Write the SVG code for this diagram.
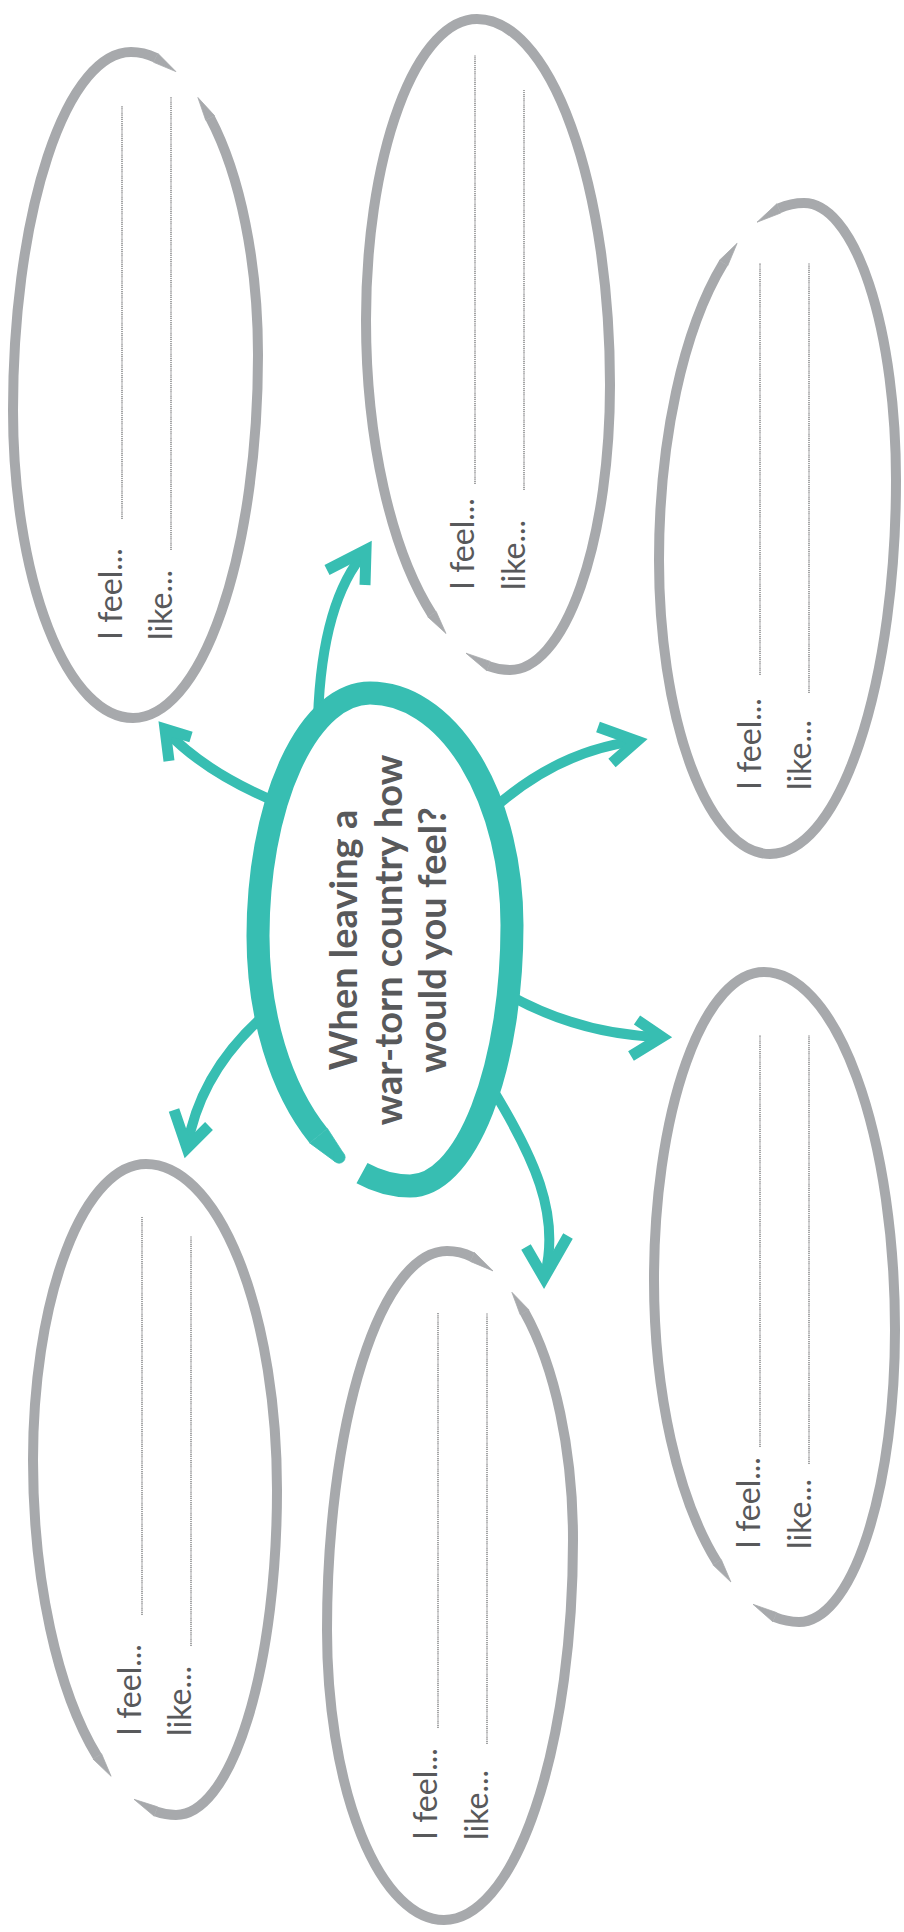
<svg xmlns="http://www.w3.org/2000/svg" width="904" height="1932" viewBox="0 0 904 1932">
<style>
.ring{fill:none;stroke:#a7a9ac;stroke-width:10;stroke-linecap:butt}
.tip{fill:#a7a9ac;stroke:#a7a9ac;stroke-width:0.8;stroke-linejoin:round}
.core{fill:none;stroke:#37beb2;stroke-width:23;stroke-linecap:butt}
.ctip{fill:#37beb2;stroke:#37beb2;stroke-width:0.8;stroke-linejoin:round}
.lbl{font-family:Lato,"Liberation Sans",sans-serif;font-size:32px;fill:#58595b}
.q{font-family:Lato,"Liberation Sans",sans-serif;font-size:38px;font-weight:700;fill:#58595b;text-anchor:middle}
.dot{stroke:#58595b;stroke-width:1.1;stroke-dasharray:1.2 0.9;fill:none}
.arr{fill:none;stroke:#37beb2;stroke-width:10;stroke-linecap:butt}
.head{fill:none;stroke:#37beb2;stroke-width:11;stroke-linecap:butt;stroke-linejoin:miter}
</style>
<rect width="904" height="1932" fill="#ffffff"/>

<g id="connectors">
<path class="arr" d="M274,801 Q205,772 166,731"/>
<path class="head" d="M169,761 L165,729 L191,737"/>
<path class="arr" d="M318,718 Q322,600 366,551"/>
<path class="head" d="M327,570 L366,550 L365,585"/>
<path class="arr" d="M494,808 Q560,750 637,741"/>
<path class="head" d="M598,727 L637,741 L612,763"/>
<path class="arr" d="M507,994 Q580,1035 662,1037"/>
<path class="head" d="M637,1020 L662,1037 L631,1056"/>
<path class="arr" d="M490,1085 C533,1155 562,1215 544,1278"/>
<path class="head" d="M526,1247 L544,1278 L568,1236"/>
<path class="arr" d="M268,1012 Q200,1070 187,1148"/>
<path class="head" d="M174,1110 L187,1148 L209,1126"/>
</g>

<g id="center">
<path class="core" d="M318.5,1135.7 A152,250 0 0 1 258,936 A112,243 0 0 1 370,693 A142,232 0 0 1 512,925 A102,261 0 0 1 410,1186 A152,250 0 0 1 362,1173.2"/>
<path class="ctip" d="M309.6,1142.9 L335.2,1161.7 L343,1152.7 L327.4,1128.5 Z"/>
<circle class="ctip" cx="339.1" cy="1157.2" r="6"/>
<text class="q" transform="translate(357,940) rotate(-90)">When leaving a</text>
<text class="q" transform="translate(402,940) rotate(-90)">war-torn country how</text>
<text class="q" transform="translate(446,940) rotate(-90)">would you feel?</text>
</g>

<g id="node-a">
<path class="ring" d="M210.1,117.9 A127,303 0 0 1 258,355 A125,363 0 0 1 133,718 A120,308 0 0 1 13,410 A118,358 0 0 1 131,52 A127,303 0 0 1 155.7,57.8"/>
<path class="tip" d="M157.8,53.3 L175.9,71.6 L153.6,62.3 Z"/>
<path class="tip" d="M214.5,115.6 L197.9,97.5 L205.7,120.2 Z"/>
<text class="lbl" transform="translate(122,640) rotate(-90)">I feel...</text>
<text class="lbl" transform="translate(172,640) rotate(-90)">like...</text>
<line class="dot" x1="122" y1="519" x2="122" y2="106"/>
<line class="dot" x1="171" y1="550" x2="171" y2="97"/>
</g>

<g id="node-b">
<path class="ring" d="M432,614.2 A144,350 0 0 1 366,320 A111,301 0 0 1 477,19 A133,366 0 0 1 610,385 A100,285 0 0 1 510,670 A144,350 0 0 1 488.5,666.1"/>
<path class="tip" d="M486.8,670.8 L466,653.2 L490.2,661.4 Z"/>
<path class="tip" d="M427.8,616.9 L446,633.5 L436.2,611.5 Z"/>
<text class="lbl" transform="translate(474,590) rotate(-90)">I feel...</text>
<text class="lbl" transform="translate(525,590) rotate(-90)">like...</text>
<line class="dot" x1="475" y1="484" x2="475" y2="55"/>
<line class="dot" x1="524" y1="490" x2="524" y2="90"/>
</g>

<g id="node-c">
<path class="ring" d="M723.4,263.2 A145,357 0 0 0 659,560 A111,294 0 0 0 770,854 A126,374 0 0 0 896,480 A92,277 0 0 0 804,203 A145,357 0 0 0 778.8,208.4"/>
<path class="tip" d="M776.8,203.8 L757,222.2 L780.8,213 Z"/>
<path class="tip" d="M719.1,260.6 L737.1,243.3 L727.7,265.8 Z"/>
<text class="lbl" transform="translate(761,790) rotate(-90)">I feel...</text>
<text class="lbl" transform="translate(811,790) rotate(-90)">like...</text>
<line class="dot" x1="760" y1="675" x2="760" y2="263"/>
<line class="dot" x1="809" y1="693" x2="809" y2="263"/>
</g>

<g id="node-d">
<path class="ring" d="M717.1,1562.2 A145,342 0 0 1 654,1280 A110,308 0 0 1 764,972 A131,358 0 0 1 895,1330 A96,292 0 0 1 799,1622 A145,342 0 0 1 774.8,1617.2"/>
<path class="tip" d="M772.9,1621.8 L753,1604.3 L776.7,1612.6 Z"/>
<path class="tip" d="M712.9,1564.8 L730.9,1582 L721.3,1559.6 Z"/>
<text class="lbl" transform="translate(760,1549) rotate(-90)">I feel...</text>
<text class="lbl" transform="translate(811,1549) rotate(-90)">like...</text>
<line class="dot" x1="760" y1="1447" x2="760" y2="1035"/>
<line class="dot" x1="809" y1="1464" x2="809" y2="1035"/>
</g>

<g id="node-e">
<path class="ring" d="M97.3,1756.4 A143,355 0 0 1 33,1460 A113,296 0 0 1 146,1164 A131,326 0 0 1 277,1490 A101,325 0 0 1 176,1815 A143,355 0 0 1 155.9,1811.5"/>
<path class="tip" d="M154.2,1816.2 L134,1799.3 L157.6,1806.8 Z"/>
<path class="tip" d="M93,1759 L111.1,1776.3 L101.6,1753.8 Z"/>
<text class="lbl" transform="translate(141,1736) rotate(-90)">I feel...</text>
<text class="lbl" transform="translate(191,1736) rotate(-90)">like...</text>
<line class="dot" x1="142" y1="1615" x2="142" y2="1216"/>
<line class="dot" x1="191" y1="1646" x2="191" y2="1236"/>
</g>

<g id="node-f">
<path class="ring" d="M524.6,1312.3 A126,289 0 0 1 573,1540 A129,380 0 0 1 444,1920 A117,290 0 0 1 327,1630 A120,379 0 0 1 447,1251 A126,289 0 0 1 472.3,1256.9"/>
<path class="tip" d="M474.4,1252.4 L493,1270.9 L470.2,1261.4 Z"/>
<path class="tip" d="M529,1309.9 L511.9,1292.3 L520.2,1314.7 Z"/>
<text class="lbl" transform="translate(437,1840) rotate(-90)">I feel...</text>
<text class="lbl" transform="translate(488,1840) rotate(-90)">like...</text>
<line class="dot" x1="438" y1="1728" x2="438" y2="1313"/>
<line class="dot" x1="487" y1="1744" x2="487" y2="1313"/>
</g>
</svg>
